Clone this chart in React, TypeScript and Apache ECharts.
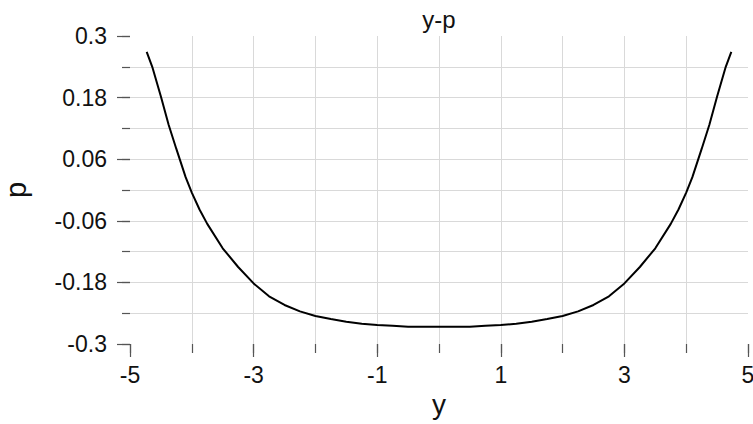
import { useEffect, useRef } from "react";
import * as echarts from "echarts";

// Curve samples: horizontal coordinate y and the value p
const yValues = [
  -4.73, -4.64, -4.5, -4.375, -4.25, -4.1, -4.0, -3.875, -3.75, -3.5, -3.25, -3.0,
  -2.75, -2.5, -2.25, -2.0, -1.75, -1.5, -1.25, -1.0, -0.75, -0.5, -0.25, 0,
  0.25, 0.5, 0.75, 1.0, 1.25, 1.5, 1.75, 2.0, 2.25, 2.5, 2.75, 3.0,
  3.25, 3.5, 3.75, 3.875, 4.0, 4.1, 4.25, 4.375, 4.5, 4.64, 4.73,
];
const pValues = [
  0.269, 0.24, 0.182, 0.127, 0.08, 0.025, -0.005, -0.038, -0.066, -0.1135, -0.15, -0.182,
  -0.207, -0.224, -0.2365, -0.2455, -0.2515, -0.2565, -0.2605, -0.263, -0.2645, -0.2665, -0.2665, -0.2665,
  -0.2665, -0.2665, -0.2645, -0.263, -0.2605, -0.2565, -0.2515, -0.2455, -0.2365, -0.224, -0.207, -0.182,
  -0.15, -0.1135, -0.066, -0.038, -0.005, 0.025, 0.08, 0.127, 0.182, 0.24, 0.269,
];

// Tick positions along each axis; every other one carries a label
const yTickLabels = ["-5", "-4", "-3", "-2", "-1", "0", "1", "2", "3", "4", "5"];
const pTickLabels = ["-0.3", "-0.24", "-0.18", "-0.12", "-0.06", "0", "0.06", "0.12", "0.18", "0.24", "0.3"];

const FONT = "'Liberation Sans', Arial, Helvetica, sans-serif";
const GRID_COLOR = "#d9d9d9";
const TICK_COLOR = "#555555";
const TEXT_COLOR = "#111111";

export default function App() {
  const ref = useRef<HTMLDivElement>(null);

  useEffect(() => {
    const chart = echarts.init(ref.current!, null, { renderer: "svg" });
    const everyOther = (index: number) => index % 2 === 0;

    chart.setOption({
      animation: false,
      backgroundColor: "#ffffff",
      title: {
        text: "y-p",
        left: 434,
        top: 2,
        textAlign: "center",
        textStyle: { fontFamily: FONT, fontSize: 24, fontWeight: "normal", color: TEXT_COLOR },
      },
      grid: { left: 130, right: 5, top: 36, bottom: 80, outerBoundsMode: "none" },
      xAxis: [
        {
          type: "value",
          min: -5,
          max: 5,
          interval: 1,
          name: "y",
          nameLocation: "middle",
          nameGap: 46,
          nameTextStyle: { fontFamily: FONT, fontSize: 28, color: TEXT_COLOR },
          axisLine: { show: false, onZero: false },
          axisTick: { show: true, length: 9, lineStyle: { color: TICK_COLOR, width: 1.2 } },
          axisLabel: { show: false },
          splitLine: {
            show: true,
            showMinLine: false,
            showMaxLine: false,
            lineStyle: { color: GRID_COLOR, width: 1 },
          },
        },
        {
          type: "category",
          data: yTickLabels,
          boundaryGap: false,
          position: "bottom",
          axisLine: { show: false, onZero: false },
          axisTick: { show: true, interval: everyOther, length: 13, lineStyle: { color: TICK_COLOR, width: 1.2 } },
          axisLabel: { interval: everyOther, margin: 19, fontFamily: FONT, fontSize: 23, color: TEXT_COLOR },
          splitLine: { show: false },
        },
      ],
      yAxis: [
        {
          type: "value",
          min: -0.3,
          max: 0.3,
          interval: 0.06,
          name: "p",
          nameLocation: "middle",
          nameGap: 100,
          nameTextStyle: { fontFamily: FONT, fontSize: 29, color: TEXT_COLOR },
          axisLine: { show: false, onZero: false },
          axisTick: { show: true, length: 8, lineStyle: { color: TICK_COLOR, width: 1.2 } },
          axisLabel: { show: false },
          splitLine: {
            show: true,
            showMinLine: false,
            showMaxLine: false,
            lineStyle: { color: GRID_COLOR, width: 1 },
          },
        },
        {
          type: "category",
          data: pTickLabels,
          boundaryGap: false,
          position: "left",
          axisLine: { show: false, onZero: false },
          axisTick: { show: true, interval: everyOther, length: 13, lineStyle: { color: TICK_COLOR, width: 1.2 } },
          axisLabel: { interval: everyOther, margin: 23, fontFamily: FONT, fontSize: 23, color: TEXT_COLOR },
          splitLine: { show: false },
        },
      ],
      series: [
        {
          type: "line",
          xAxisIndex: 0,
          yAxisIndex: 0,
          data: yValues.map((y, i) => [y, pValues[i]]),
          showSymbol: false,
          smooth: false,
          lineStyle: { color: "#000000", width: 2 },
        },
      ],
    });

    return () => chart.dispose();
  }, []);

  return <div ref={ref} style={{ width: 753, height: 424, position: "fixed", left: 0, top: 0 }} />;
}
